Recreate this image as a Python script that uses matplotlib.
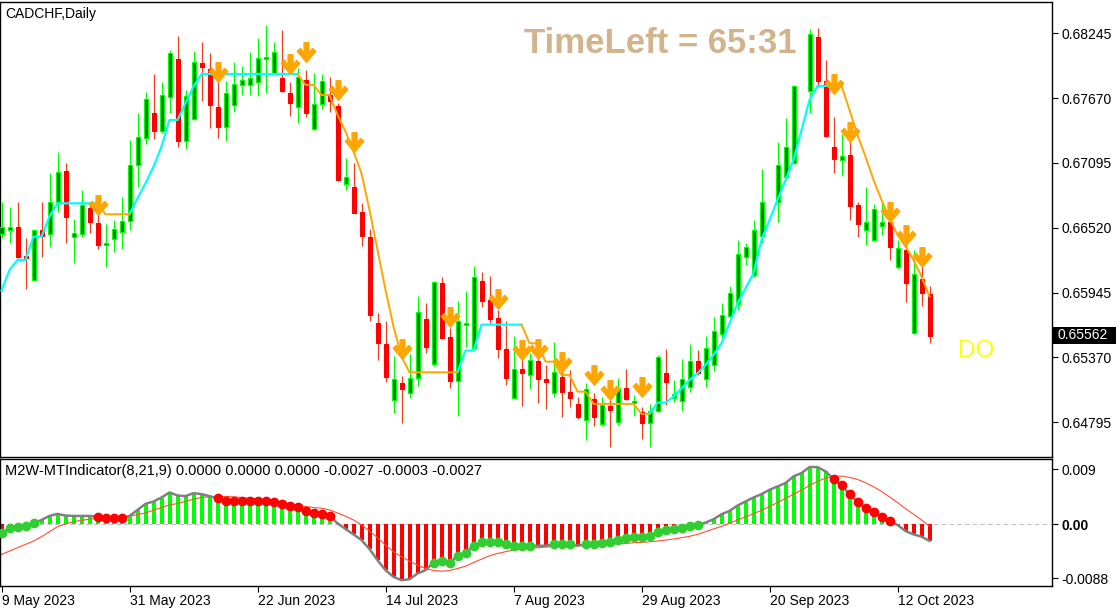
import numpy as np
import pandas as pd
import matplotlib
matplotlib.use("Agg")
import matplotlib.pyplot as plt
from matplotlib.patches import Rectangle
from matplotlib.path import Path

plt.rcParams['font.family'] = ['Liberation Sans', 'DejaVu Sans']

nan = float('nan')

# CADCHF daily bars from 9 May 2023 (bars 96 and 100 are not drawn in the picture)
opens = [0.66462, 0.66501, 0.66527, 0.66270, 0.66057, 0.66498, 0.66462, 0.66746, 0.67021, 0.66442,
         0.66462, 0.66693, 0.66560, 0.66371, 0.66418, 0.66483, 0.66578, 0.67074, 0.67314, 0.67536,
         0.67382, 0.67677, 0.68014, 0.67287, 0.67482, 0.67982, 0.67926, 0.67589, 0.67411, 0.67606,
         0.67790, 0.67787, 0.67810, 0.68014, 0.67896, 0.67846, 0.67713, 0.67595, 0.67831, 0.67394,
         0.67615, 0.67698, 0.67601, 0.66906, 0.66879, 0.66660, 0.66436, 0.65673, 0.65490, 0.64993,
         0.65141, 0.65052, 0.65185, 0.65708, 0.65309, 0.66028, 0.65549, 0.65158, 0.65655, 0.65451,
         0.66048, 0.65880, 0.65717, 0.65442, 0.65008, 0.65268, 0.65212, 0.65342, 0.65179, 0.65052,
         0.65194, 0.65061, 0.64955, 0.64816, 0.64999, 0.64777, 0.64943, 0.64795, 0.65102, 0.64969,
         0.64890, 0.64786, 0.64898, 0.65229, 0.65008, 0.64981, 0.65105, 0.65339, 0.65176, 0.65300,
         0.65581, 0.65738, 0.65841, 0.66264, 0.66099, 0.66448, nan, 0.66746, 0.66968, 0.67092,
         nan, 0.67734, 0.68210, 0.67819, 0.67237, 0.67122, 0.67163, 0.66720, 0.66498, 0.66412,
         0.66533, 0.66572, 0.66176, 0.66323, 0.65584, 0.66063, 0.65930]
highs = [0.66746, 0.66705, 0.66746, 0.66427, 0.66501, 0.66746, 0.67003, 0.67190, 0.67092, 0.66595,
         0.66853, 0.66749, 0.66723, 0.66554, 0.66589, 0.66793, 0.67299, 0.67538, 0.67725, 0.67884,
         0.67816, 0.68097, 0.68221, 0.67742, 0.68085, 0.68168, 0.68068, 0.67905, 0.67819, 0.67991,
         0.67955, 0.68077, 0.68204, 0.68319, 0.68171, 0.68275, 0.67810, 0.67935, 0.67920, 0.67890,
         0.67881, 0.67861, 0.67624, 0.67139, 0.67092, 0.66743, 0.66513, 0.65762, 0.65691, 0.65383,
         0.65206, 0.65401, 0.65915, 0.65856, 0.66051, 0.66087, 0.65629, 0.65872, 0.65960, 0.66181,
         0.66128, 0.66093, 0.65791, 0.65691, 0.65561, 0.65348, 0.65407, 0.65496, 0.65303, 0.65504,
         0.65318, 0.65259, 0.65023, 0.65141, 0.65052, 0.65023, 0.64993, 0.65185, 0.65265, 0.65037,
         0.64934, 0.64958, 0.65392, 0.65442, 0.65170, 0.65354, 0.65490, 0.65436, 0.65561, 0.65726,
         0.65850, 0.66004, 0.66412, 0.66383, 0.66589, 0.67039, nan, 0.67281, 0.67497, 0.67784,
         nan, 0.68281, 0.68295, 0.68009, 0.67506, 0.67352, 0.67293, 0.66749, 0.66882, 0.66731,
         0.66758, 0.66649, 0.66412, 0.66368, 0.66323, 0.66190, 0.66004]
lows = [0.66427, 0.66383, 0.66249, 0.65975, 0.66057, 0.66264, 0.66353, 0.66663, 0.66388, 0.66211,
        0.66442, 0.66477, 0.66329, 0.66176, 0.66309, 0.66329, 0.66501, 0.66885, 0.67264, 0.67305,
        0.67358, 0.67536, 0.67240, 0.67222, 0.67476, 0.67648, 0.67402, 0.67320, 0.67293, 0.67550,
        0.67695, 0.67698, 0.67689, 0.67719, 0.67876, 0.67728, 0.67512, 0.67447, 0.67506, 0.67388,
        0.67577, 0.67550, 0.66938, 0.66856, 0.66649, 0.66359, 0.65697, 0.65348, 0.65156, 0.64881,
        0.64792, 0.65008, 0.65117, 0.65413, 0.65294, 0.65531, 0.65102, 0.64851, 0.65460, 0.65436,
        0.65821, 0.65673, 0.65368, 0.65126, 0.64999, 0.64940, 0.65091, 0.64969, 0.64913, 0.65023,
        0.64839, 0.64928, 0.64827, 0.64638, 0.64762, 0.64762, 0.64579, 0.64771, 0.64993, 0.64851,
        0.64650, 0.64579, 0.64890, 0.64949, 0.64978, 0.64898, 0.65067, 0.65215, 0.65111, 0.65250,
        0.65510, 0.65726, 0.65791, 0.66187, 0.66087, 0.66383, nan, 0.66575, 0.66944, 0.67086,
        nan, 0.67536, 0.67772, 0.67329, 0.67009, 0.66983, 0.66589, 0.66442, 0.66368, 0.66406,
        0.66456, 0.66235, 0.66152, 0.65865, 0.65578, 0.65830, 0.65496]
closes = [0.66524, 0.66524, 0.66264, 0.66249, 0.66498, 0.66451, 0.66746, 0.67012, 0.66613, 0.66471,
          0.66723, 0.66569, 0.66371, 0.66383, 0.66507, 0.66578, 0.67074, 0.67323, 0.67660, 0.67382,
          0.67695, 0.68068, 0.67293, 0.67689, 0.67988, 0.67949, 0.67612, 0.67411, 0.67713, 0.67793,
          0.67828, 0.67846, 0.68023, 0.68032, 0.68077, 0.67734, 0.67630, 0.67861, 0.67536, 0.67615,
          0.67819, 0.67648, 0.66944, 0.66968, 0.66655, 0.66451, 0.65750, 0.65496, 0.65200, 0.65176,
          0.65094, 0.65185, 0.65771, 0.65460, 0.66037, 0.65546, 0.65158, 0.65697, 0.65673, 0.66087,
          0.65874, 0.65714, 0.65442, 0.65191, 0.65265, 0.65235, 0.65345, 0.65176, 0.65156, 0.65238,
          0.65067, 0.65014, 0.64839, 0.65094, 0.64839, 0.64949, 0.64904, 0.65102, 0.65002, 0.64984,
          0.64792, 0.64898, 0.65377, 0.65150, 0.65043, 0.65182, 0.65339, 0.65229, 0.65451, 0.65608,
          0.65750, 0.65945, 0.66291, 0.66347, 0.66498, 0.66746, nan, 0.67077, 0.67234, 0.67775,
          nan, 0.68236, 0.67825, 0.67334, 0.67133, 0.67160, 0.66717, 0.66557, 0.66569, 0.66690,
          0.66569, 0.66347, 0.66338, 0.66034, 0.66108, 0.65939, 0.65562]

# trailing line: cyan while trend is up, orange while trend is down
up_line = ([0.65963, 0.66146, 0.66235, 0.66235, 0.66442, 0.66442, 0.66619, 0.66737, 0.66737, 0.66737,
            0.66737, 0.66737, 0.66737] + [nan] * 3 +
           [0.66640, 0.66782, 0.66915, 0.67062, 0.67240, 0.67476, 0.67476, 0.67624, 0.67772,
            0.67884, 0.67884, 0.67884, 0.67884, 0.67884, 0.67884, 0.67884, 0.67884, 0.67884, 0.67884,
            0.67884, 0.67884, 0.67884] + [nan] * 19 +
           [0.65238, 0.65431, 0.65431, 0.65661, 0.65661, 0.65661, 0.65661, 0.65661, 0.65661] + [nan] * 15 +
           [0.64869, 0.64969, 0.64969, 0.65023, 0.65097, 0.65170, 0.65229, 0.65303, 0.65392, 0.65496,
            0.65673, 0.65850, 0.65983, 0.66116, 0.66412, 0.66589, 0.66767, 0.66944, 0.67122, 0.67388,
            0.67654, 0.67778, 0.67778, 0.67778, 0.67778] + [nan] * 11)
down_line = ([nan] * 12 + [0.66737, 0.66640, 0.66640, 0.66640, 0.66640] + [nan] * 20 +
             [0.67884, 0.67787, 0.67787, 0.67698, 0.67698, 0.67521, 0.67373, 0.67196, 0.67003, 0.66678,
              0.66323, 0.65969, 0.65643, 0.65377, 0.65238, 0.65238, 0.65238, 0.65238, 0.65238, 0.65238,
              0.65238] + [nan] * 7 +
             [0.65661, 0.65496, 0.65496, 0.65333, 0.65333, 0.65215, 0.65215, 0.65067, 0.65067, 0.64958,
              0.64958, 0.64958, 0.64958, 0.64958, 0.64958, 0.64869, 0.64869] + [nan] * 23 +
             [0.67778, 0.67565, 0.67343, 0.67151, 0.66944, 0.66767, 0.66604, 0.66456, 0.66353, 0.66235,
              0.66087, 0.65910])

arrow_bars = [12, 27, 36, 38, 42, 44, 50, 56, 62, 65, 67, 70, 74, 76, 80, 104, 106, 111, 113, 115]
arrow_tips = [0.66634, 0.67816, 0.67890, 0.67994, 0.67654, 0.67196, 0.65363, 0.65643, 0.65806, 0.65348,
              0.65363, 0.65244, 0.65126, 0.64993, 0.65023, 0.67713, 0.67284, 0.66575, 0.66368, 0.66176]

# M2W-MTIndicator(8,21,9)
hist = [-0.00147, -0.00065, -0.00049, -0.00027, 0.00016, 0.00071, 0.00136, 0.00169, 0.00142, 0.00136,
        0.00136, 0.00136, 0.00125, 0.00098, 0.00098, 0.00098, 0.00136, 0.00234, 0.00333, 0.00371,
        0.00436, 0.00518, 0.00469, 0.00458, 0.00507, 0.00491, 0.00458, 0.00425, 0.00387, 0.00382,
        0.00382, 0.00382, 0.00376, 0.00376, 0.00371, 0.00327, 0.00300, 0.00278, 0.00218, 0.00180,
        0.00164, 0.00142, 0.00016, -0.00076, -0.00164, -0.00256, -0.00403, -0.00583, -0.00747, -0.00856,
        -0.00910, -0.00894, -0.00801, -0.00747, -0.00622, -0.00600, -0.00622, -0.00518, -0.00463, -0.00349,
        -0.00294, -0.00294, -0.00294, -0.00327, -0.00349, -0.00349, -0.00349, -0.00349, -0.00349, -0.00327,
        -0.00327, -0.00327, -0.00349, -0.00327, -0.00316, -0.00300, -0.00284, -0.00256, -0.00218, -0.00207,
        -0.00202, -0.00191, -0.00131, -0.00098, -0.00076, -0.00055, -0.00027, -0.00011, 0.00027, 0.00082,
        0.00164, 0.00218, 0.00305, 0.00371, 0.00436, 0.00491, 0.00562, 0.00616, 0.00671, 0.00780,
        0.00834, 0.00932, 0.00932, 0.00861, 0.00741, 0.00632, 0.00491, 0.00360, 0.00273, 0.00196,
        0.00125, 0.00055, -0.00011, -0.00109, -0.00164, -0.00202, -0.00270]
signal = [-0.00491, -0.00436, -0.00382, -0.00327, -0.00273, -0.00202, -0.00120, -0.00038, 0.00005, 0.00044,
          0.00065, 0.00082, 0.00098, 0.00098, 0.00098, 0.00104, 0.00131, 0.00158, 0.00185, 0.00229,
          0.00273, 0.00316, 0.00338, 0.00371, 0.00409, 0.00436, 0.00447, 0.00453, 0.00453, 0.00447,
          0.00436, 0.00425, 0.00409, 0.00393, 0.00371, 0.00343, 0.00322, 0.00305, 0.00289, 0.00273,
          0.00262, 0.00234, 0.00185, 0.00131, 0.00071, -0.00011, -0.00109, -0.00218, -0.00338, -0.00447,
          -0.00529, -0.00600, -0.00665, -0.00720, -0.00752, -0.00763, -0.00752, -0.00720, -0.00682, -0.00622,
          -0.00567, -0.00512, -0.00474, -0.00447, -0.00420, -0.00403, -0.00393, -0.00382, -0.00371, -0.00365,
          -0.00365, -0.00360, -0.00349, -0.00343, -0.00338, -0.00333, -0.00327, -0.00316, -0.00311, -0.00300,
          -0.00294, -0.00284, -0.00273, -0.00256, -0.00240, -0.00218, -0.00196, -0.00164, -0.00120, -0.00076,
          -0.00033, 0.00016, 0.00071, 0.00120, 0.00174, 0.00229, 0.00289, 0.00354, 0.00420, 0.00491,
          0.00556, 0.00632, 0.00698, 0.00752, 0.00780, 0.00785, 0.00763, 0.00731, 0.00676, 0.00611,
          0.00534, 0.00447, 0.00354, 0.00256, 0.00164, 0.00071, -0.00030]
green_dots = [0, 1, 2, 3, 4, 54, 55, 56, 57, 58, 59, 60, 61, 62, 63, 64, 65, 66, 69, 70, 71,
              73, 74, 75, 76, 77, 78, 79, 80, 81, 82, 83, 84, 85, 86, 87]
red_dots = [12, 13, 14, 15, 27, 28, 29, 30, 31, 32, 33, 34, 35, 36, 37, 38, 39, 40, 41,
            104, 105, 106, 107, 108, 109, 110, 111]

price_ticks = [0.68245, 0.67670, 0.67095, 0.66520, 0.65945, 0.65370, 0.64795]
last_price = '0.65562'

dates = pd.bdate_range('2023-05-09', periods=len(closes))
x = np.arange(len(closes))

W, H = 1120, 610
fig = plt.figure(figsize=(W / 100, H / 100), dpi=100)
fig.patch.set_facecolor('white')

def box(l, t, r, b):
    return [l / W, 1 - b / H, (r - l) / W, (b - t) / H]

ax = fig.add_axes(box(0, 1.5, 1052, 457))
ax2 = fig.add_axes(box(0, 459, 1052, 585.7))

# ---- price panel
bull_fill, bull_edge = '#008000', '#00FF00'
bear_fill, bear_wick = '#FF0000', '#F04020'
for i in x:
    o, h, l, c = opens[i], highs[i], lows[i], closes[i]
    if np.isnan(o):
        continue
    up = c >= o
    ax.vlines(i, l, h, color=bull_edge if up else bear_wick, lw=0.9, zorder=2)
    lo, hi = min(o, c), max(o, c)
    ax.add_patch(Rectangle((i - 0.25, lo), 0.5, max(hi - lo, 0.00002),
                           facecolor=bull_fill if up else bear_fill,
                           edgecolor=bull_edge if up else bear_fill, lw=0.8, zorder=3))

ax.plot(x, up_line, color='#00FFFF', lw=1.6, zorder=4)
ax.plot(x, down_line, color='#FFA500', lw=1.4, zorder=4)

# down arrow marker (shaft + chevron head)
arrow = Path([(-0.25, 1.0), (0.25, 1.0), (0.25, -0.1), (0.62, 0.42), (0.95, 0.12), (0.0, -1.0),
              (-0.95, 0.12), (-0.62, 0.42), (-0.25, -0.1), (-0.25, 1.0)],
             [Path.MOVETO] + [Path.LINETO] * 8 + [Path.CLOSEPOLY])
y0, y1 = 0.64487, 0.68527
px = (y1 - y0) / 455.5
ax.plot(arrow_bars, [t + 9.5 * px for t in arrow_tips], ls='none', marker=arrow, ms=14,
        color='#FFA500', mec='#FFA500', zorder=5)

ax.set_xlim(-0.1875, 131.31)
ax.set_ylim(y0, y1)
ax.yaxis.tick_right()
ax.set_yticks(price_ticks)
ax.set_yticklabels([f'{p:.5f}' for p in price_ticks])
ax.tick_params(axis='y', labelsize=10, length=4, width=0.8, pad=3, colors='black')
ax.set_xticks([])
for s in ax.spines.values():
    s.set_color('black')
    s.set_linewidth(1)

fig.text(5 / W, 1 - 14 / H, 'CADCHF,Daily', fontsize=10, va='center', ha='left')
fig.text(797 / W, 1 - 53 / H, 'TimeLeft = 65:31', fontsize=25, fontweight='bold',
         color='#D2B48C', ha='right', va='baseline')
fig.text(958 / W, 1 - 357 / H, 'DO', fontsize=17.5, color='#FFFF00', ha='left', va='baseline')

fig.add_artist(Rectangle((1053 / W, 1 - 343.5 / H), 63 / W, 17 / H,
                         transform=fig.transFigure, facecolor='black', edgecolor='none'))
fig.text(1057 / W, 1 - 335 / H, last_price, fontsize=10, color='white', va='center', ha='left')

# ---- indicator panel
ax2.axhline(0, color='#C0C0C0', lw=0.8, ls=(0, (4, 3)), zorder=0)
ax2.bar(x, hist, width=0.5, color=['#00FF00' if v >= 0 else '#FF0000' for v in hist], zorder=1)
ax2.plot(x, signal, color='#FF5030', lw=0.8, zorder=2)
ax2.plot(x, hist, color='#808080', lw=1.8, zorder=3)
ax2.plot(green_dots, [hist[i] for i in green_dots], ls='none', marker='o', ms=6,
         color='#32CD32', zorder=4)
ax2.plot(red_dots, [hist[i] for i in red_dots], ls='none', marker='o', ms=6,
         color='#FF0000', zorder=4)

ax2.set_xlim(-0.1875, 131.31)
ax2.set_ylim(-0.009993, 0.010628)
ax2.yaxis.tick_right()
ax2.set_yticks([0.009, 0.0, -0.0088])
ax2.set_yticklabels(['0.009', '0.00', '-0.0088'])
ax2.get_yticklabels()[1].set_fontweight('bold')
ax2.tick_params(axis='y', labelsize=10, length=4, width=0.8, pad=3)
tick_idx = list(range(0, len(closes), 16))
ax2.set_xticks(tick_idx)
ax2.set_xticklabels([f'{dates[i].day} {dates[i].strftime("%b %Y")}' for i in tick_idx], ha='left')
ax2.tick_params(axis='x', labelsize=10, length=4, width=0.8, pad=2)
for s in ax2.spines.values():
    s.set_color('black')
    s.set_linewidth(1)

fig.text(5 / W, 1 - 471.5 / H,
         'M2W-MTIndicator(8,21,9) 0.0000 0.0000 0.0000 -0.0027 -0.0003 -0.0027',
         fontsize=10.5, va='center', ha='left')

fig.savefig('out.png', dpi=100, facecolor='white')
